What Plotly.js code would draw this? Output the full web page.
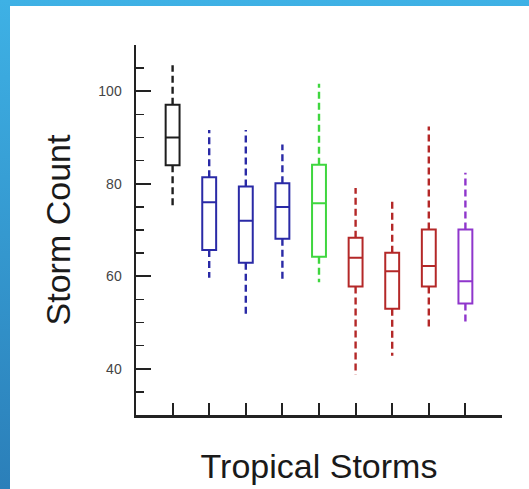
<!DOCTYPE html>
<html>
<head>
<meta charset="utf-8">
<script src="https://cdn.plot.ly/plotly-3.0.1.min.js"></script>
<style>
html,body{margin:0;padding:0;width:529px;height:489px;overflow:hidden;}
body{background:linear-gradient(to bottom,#3eb1e5,#2b7fb9);position:relative;}
#panel{position:absolute;left:10px;top:6px;width:519px;height:483px;background:#fff;}
#chart{position:absolute;left:0;top:0;width:529px;height:489px;}
</style>
</head>
<body>
<div id="panel"></div>
<div id="chart"></div>
<script>
// Data
const categories = [1, 2, 3, 4, 5, 6, 7, 8, 9];
const minVals    = [75.0, 59.7, 51.9, 58.9, 58.7, 38.7, 42.8, 49.0, 49.9];
const q1Vals     = [84.0, 65.7, 62.9, 68.1, 64.2, 57.8, 53.0, 57.8, 54.1];
const medianVals = [90.0, 76.0, 72.0, 75.0, 75.8, 64.0, 61.1, 62.2, 58.9];
const q3Vals     = [97.1, 81.4, 79.4, 80.1, 84.1, 68.3, 65.1, 70.1, 70.1];
const maxVals    = [105.6, 91.6, 91.6, 88.5, 101.6, 79.1, 76.2, 92.4, 82.4];
const boxColors  = ['#1e1e1e', '#2a2aa6', '#2a2aa6', '#2a2aa6', '#3fd63f',
                    '#b42828', '#b42828', '#b42828', '#8f36cc'];
const yTickVals  = [40, 60, 80, 100];
const xTickVals  = [1, 2, 3, 4, 5, 6, 7, 8, 9, 10];

const traces = [];
categories.forEach((c, i) => {
  // dashed whiskers
  traces.push({
    type: 'scatter', mode: 'lines',
    x: [c, c, null, c, c],
    y: [q3Vals[i], maxVals[i], null, q1Vals[i], minVals[i]],
    line: {color: boxColors[i], width: 2.4, dash: '7px,4px'},
    hoverinfo: 'skip', showlegend: false
  });
  // box
  traces.push({
    type: 'box',
    x: [c],
    q1: [q1Vals[i]], median: [medianVals[i]], q3: [q3Vals[i]],
    lowerfence: [q1Vals[i]], upperfence: [q3Vals[i]],
    width: 0.38,
    whiskerwidth: 0,
    line: {color: boxColors[i], width: 2},
    fillcolor: 'rgba(255,255,255,0)',
    boxpoints: false,
    hoverinfo: 'skip', showlegend: false
  });
});

const layout = {
  width: 529, height: 489,
  margin: {l: 136, r: 27, t: 45, b: 74},
  paper_bgcolor: 'rgba(0,0,0,0)',
  plot_bgcolor: 'rgba(0,0,0,0)',
  font: {family: 'Liberation Sans, Arial, sans-serif', color: '#222'},
  showlegend: false,
  hovermode: false,
  xaxis: {
    range: [0, 10], tickmode: 'array', tickvals: xTickVals,
    showticklabels: false, showgrid: false, zeroline: false,
    ticks: 'inside', ticklen: 12, tickwidth: 2, tickcolor: '#222',
    showline: true, linecolor: '#222', linewidth: 2.5,
    title: {text: 'Tropical Storms', font: {size: 34, color: '#1a1a1a'}, standoff: 38}
  },
  yaxis: {
    range: [30, 110], tickmode: 'array', tickvals: yTickVals,
    showgrid: false, zeroline: false,
    ticks: 'inside', ticklen: 15, tickwidth: 2, tickcolor: '#222',
    ticklabelstandoff: 9,
    tickfont: {size: 14, color: '#444'},
    showline: true, linecolor: '#222', linewidth: 2.5,
    minor: {dtick: 5, tick0: 0, ticks: 'inside', ticklen: 8, tickwidth: 1.5, tickcolor: '#222', showgrid: false},
    title: {text: 'Storm Count', font: {size: 34, color: '#1a1a1a'}, standoff: 18}
  }
};

Plotly.newPlot('chart', traces, layout, {displayModeBar: false, staticPlot: true});
</script>
</body>
</html>
